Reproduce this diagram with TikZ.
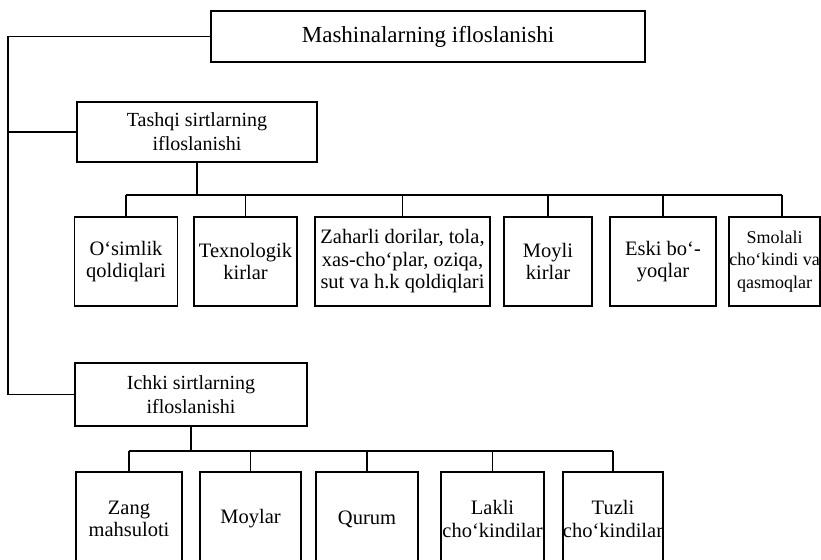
\documentclass[tikz,border=0pt]{standalone}
\usepackage{fontspec}
\setmainfont{Liberation Serif}
\begin{document}
\begin{tikzpicture}[x=1pt,y=-1pt,
  box/.style={draw,line width=1.6pt,rectangle,inner sep=0pt,align=center,
    font=\fontsize{20.5}{22.5}\selectfont},
  head/.style={box,font=\fontsize{20}{24}\selectfont},
  title/.style={box,font=\fontsize{23}{26}\selectfont},
  link/.style={line width=1.5pt}]
\useasboundingbox (0,0) rectangle (821,559);
% top
\node[title,minimum width=434,minimum height=51] (top) at (428,36.5) {Mashinalarning ifloslanishi};
\node[head,minimum width=240,minimum height=60] (tash) at (197,132) {Tashqi sirtlarning\\ifloslanishi};
\node[head,minimum width=232,minimum height=63] (ichk) at (191,394.5) {Ichki sirtlarning\\ifloslanishi};
% top row children
\node[box,minimum width=103,minimum height=89] (a1) at (126,261.5) {O‘simlik\\qoldiqlari};
\node[box,minimum width=103,minimum height=89] (a2) at (245.5,261.5) {Texnologik\\kirlar};
\node[box,minimum width=175,minimum height=89] (a3) at (402.5,261.5) {Zaharli dorilar, tola,\\xas-cho‘plar, oziqa,\\sut va h.k qoldiqlari};
\node[box,minimum width=88,minimum height=89] (a4) at (548,261.5) {Moyli\\kirlar};
\node[box,minimum width=106,minimum height=89] (a5) at (663,261.5) {Eski bo‘-\\yoqlar};
\node[box,minimum width=90,minimum height=89,font=\fontsize{18}{22.5}\selectfont] (a6) at (774.5,261.5) {Smolali\\cho‘kindi va\\qasmoqlar};
% bottom row children
\node[box,minimum width=106,minimum height=94] (b1) at (129,519) {Zang\\mahsuloti};
\node[box,minimum width=101,minimum height=94] (b2) at (250.5,519) {Moylar};
\node[box,minimum width=102,minimum height=94] (b3) at (367,519) {Qurum};
\node[box,minimum width=103,minimum height=94] (b4) at (492.5,519) {Lakli\\cho‘kindilar};
\node[box,minimum width=100,minimum height=94] (b5) at (613,519) {Tuzli\\cho‘kindilar};
% trunk
\coordinate (trunkTop) at (8,36.5);
\coordinate (trunkBot) at (8,394.5);
\draw[link] (top.west) -- (trunkTop) -- (trunkBot) -- (ichk.west);
\draw[link] (tash.west) -- (tash.west -| trunkTop);
% bus top row
\coordinate (busA) at (0,195);
\coordinate (a6drop) at ([xshift=7.5pt]a6.north);
\draw[link] (tash.south) -- (tash.south |- busA);
\draw[link] (busA -| a1.north) -- (busA -| a6drop);
\foreach \n in {a1,a2,a3,a4,a5} \draw[link] (busA -| \n.north) -- (\n.north);
\draw[link] (busA -| a6drop) -- (a6drop);
% bus bottom row
\coordinate (busB) at (0,451);
\draw[link] (ichk.south) -- (ichk.south |- busB);
\draw[link] (busB -| b1.north) -- (busB -| b5.north);
\foreach \n in {b1,b2,b3,b4,b5} \draw[link] (busB -| \n.north) -- (\n.north);
\end{tikzpicture}
\end{document}
